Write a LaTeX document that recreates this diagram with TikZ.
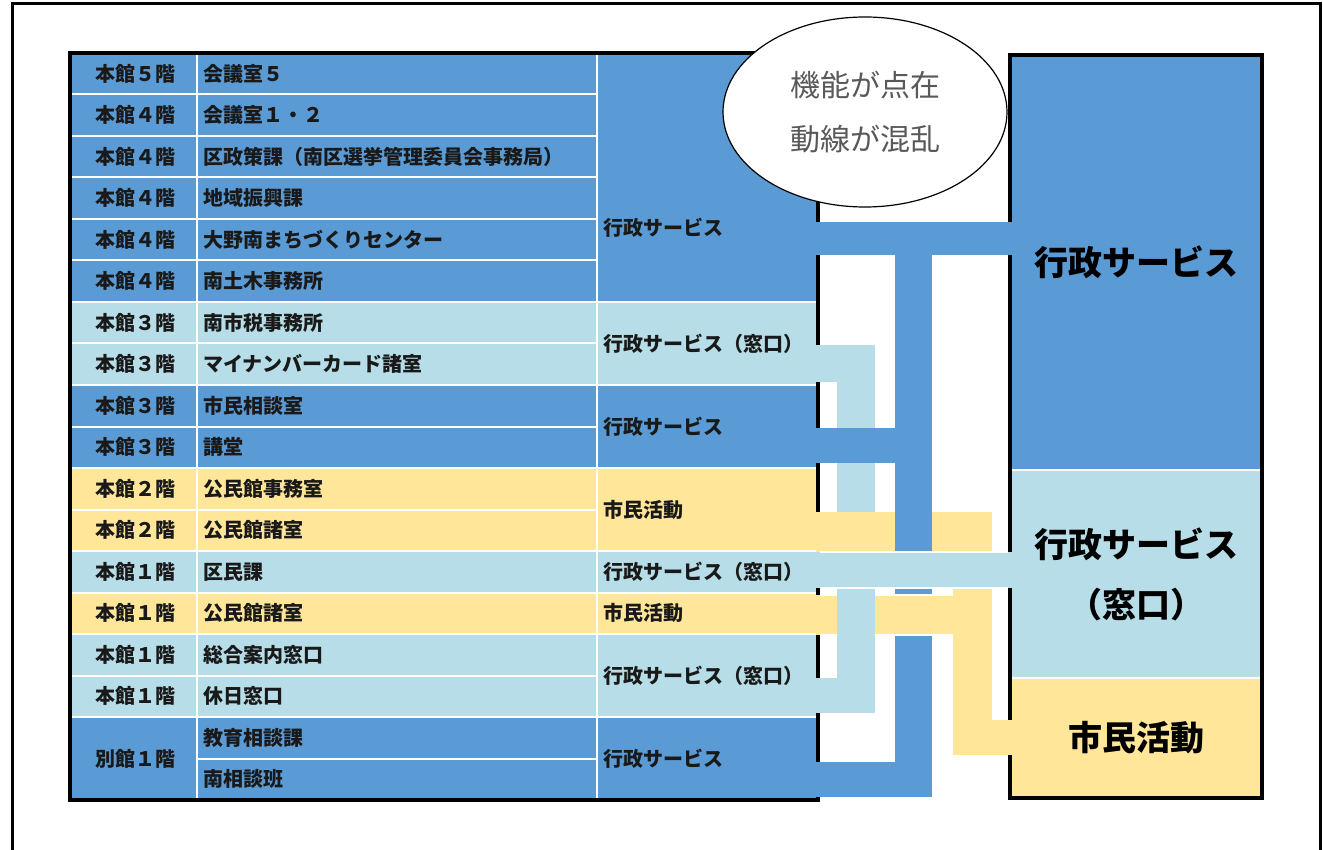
\documentclass[tikz,border=0pt]{standalone}
\usepackage{fontspec}
\setmainfont{Noto Sans CJK JP}
\usetikzlibrary{positioning,shapes.geometric}

\definecolor{svcblue}{HTML}{5B9BD5}
\definecolor{winblue}{HTML}{B7DEE8}
\definecolor{civyellow}{HTML}{FFE699}
\definecolor{inkgray}{HTML}{595959}

\tikzstyle{cell} = [rectangle, draw=white, line width=2pt, outer sep=0pt, minimum height=41.5pt, align=left, font=\fontsize{20pt}{24pt}\selectfont\bfseries, text=black!90]
\tikzstyle{floorcell} = [cell, minimum width=127pt, inner xsep=25pt, text width=77pt]
\tikzstyle{namecell} = [cell, minimum width=400pt, inner xsep=6pt, text width=388pt]
\tikzstyle{svccell} = [cell, minimum width=221pt, inner xsep=6pt, text width=209pt, anchor=north west]
\tikzstyle{sumbox} = [rectangle, draw=white, line width=1.5pt, outer sep=0pt, minimum width=252pt, align=center, font=\fontsize{34pt}{60pt}\selectfont\bfseries]
\tikzstyle{seam} = [white, line width=1.2pt]

\begin{document}
\begin{tikzpicture}[x=1pt, y=-1pt]
        \tikzset{node distance = 0pt}
        \useasboundingbox (0,0) rectangle (1323,850);
        % outer frame
        \draw[line width=3pt] (12,850) -- (12,4) -- (1320,4) -- (1320,850);

        % floor column
        \node (f1) at (133.5,73.75) [floorcell, fill=svcblue] {本館５階};
        \node (f2) [floorcell, fill=svcblue, below=of f1] {本館４階};
        \node (f3) [floorcell, fill=svcblue, below=of f2] {本館４階};
        \node (f4) [floorcell, fill=svcblue, below=of f3] {本館４階};
        \node (f5) [floorcell, fill=svcblue, below=of f4] {本館４階};
        \node (f6) [floorcell, fill=svcblue, below=of f5] {本館４階};
        \node (f7) [floorcell, fill=winblue, below=of f6] {本館３階};
        \node (f8) [floorcell, fill=winblue, below=of f7] {本館３階};
        \node (f9) [floorcell, fill=svcblue, below=of f8] {本館３階};
        \node (f10) [floorcell, fill=svcblue, below=of f9] {本館３階};
        \node (f11) [floorcell, fill=civyellow, below=of f10] {本館２階};
        \node (f12) [floorcell, fill=civyellow, below=of f11] {本館２階};
        \node (f13) [floorcell, fill=winblue, below=of f12] {本館１階};
        \node (f14) [floorcell, fill=civyellow, below=of f13] {本館１階};
        \node (f15) [floorcell, fill=winblue, below=of f14] {本館１階};
        \node (f16) [floorcell, fill=winblue, below=of f15] {本館１階};
        \node (f17) [floorcell, fill=svcblue, minimum height=83pt, below=of f16] {別館１階};

        % room column
        \node (n1) [namecell, fill=svcblue, right=of f1] {会議室５};
        \node (n2) [namecell, fill=svcblue, right=of f2] {会議室１・２};
        \node (n3) [namecell, fill=svcblue, right=of f3] {区政策課（南区選挙管理委員会事務局）};
        \node (n4) [namecell, fill=svcblue, right=of f4] {地域振興課};
        \node (n5) [namecell, fill=svcblue, right=of f5] {大野南まちづくりセンター};
        \node (n6) [namecell, fill=svcblue, right=of f6] {南土木事務所};
        \node (n7) [namecell, fill=winblue, right=of f7] {南市税事務所};
        \node (n8) [namecell, fill=winblue, right=of f8] {マイナンバーカード諸室};
        \node (n9) [namecell, fill=svcblue, right=of f9] {市民相談室};
        \node (n10) [namecell, fill=svcblue, right=of f10] {講堂};
        \node (n11) [namecell, fill=civyellow, right=of f11] {公民館事務室};
        \node (n12) [namecell, fill=civyellow, right=of f12] {公民館諸室};
        \node (n13) [namecell, fill=winblue, right=of f13] {区民課};
        \node (n14) [namecell, fill=civyellow, right=of f14] {公民館諸室};
        \node (n15) [namecell, fill=winblue, right=of f15] {総合案内窓口};
        \node (n16) [namecell, fill=winblue, right=of f16] {休日窓口};
        \node (n17) at (f17.north east) [namecell, fill=svcblue, anchor=north west] {教育相談課};
        \node (n18) [namecell, fill=svcblue, below=of n17] {南相談班};

        % service column
        \node (s1) at (n1.north east) [svccell, fill=svcblue, minimum height=249pt] {};
        \node (s1t) at (603,228) [cell, draw=none, anchor=west, inner xsep=0pt, minimum height=0pt] {行政サービス};
        \node (s2) at (n7.north east) [svccell, fill=winblue, minimum height=83pt] {行政サービス（窓口）};
        \node (s3) at (n9.north east) [svccell, fill=svcblue, minimum height=83pt] {行政サービス};
        \node (s4) at (n11.north east) [svccell, fill=civyellow, minimum height=83pt] {市民活動};
        \node (s5) at (n13.north east) [svccell, fill=winblue] {行政サービス（窓口）};
        \node (s6) at (n14.north east) [svccell, fill=civyellow] {市民活動};
        \node (s7) at (n15.north east) [svccell, fill=winblue, minimum height=83pt] {行政サービス（窓口）};
        \node (s8) at (n17.north east) [svccell, fill=svcblue, minimum height=83pt] {行政サービス};
        \draw[line width=4pt] (f1.north west) -- (s1.north east) -- (s8.south east) -- (f17.south west) -- cycle;

        % summary boxes
        \node (g1) at (1136,262.5) [sumbox, fill=svcblue, minimum height=415pt] {行政サービス};
        \node (g2) [sumbox, fill=winblue, minimum height=208pt, below=of g1] {行政サービス\\（窓口）};
        \node (g3) [sumbox, fill=civyellow, minimum height=120pt, below=of g2] {市民活動};
        \draw[line width=4pt] (g1.north west) rectangle (g3.south east);

        % flow bands, drawn in weave order
        \fill[winblue] (837,345) rectangle (875,713);
        \fill[winblue] (816,345) rectangle (875,382);
        \fill[winblue] (816,678) rectangle (875,713);
        \fill[svcblue] (816,428) rectangle (932,463);
        \fill[civyellow] (816,512) rectangle (992,552);
        \fill[svcblue] (895,222) rectangle (932,797);
        \fill[svcblue] (816,222) rectangle (1012,255);
        \fill[svcblue] (816,762) rectangle (932,797);
        \fill[civyellow] (953,512) rectangle (992,755);
        \fill[civyellow] (953,720) rectangle (1012,755);
        \fill[civyellow] (816,595) rectangle (837,635);
        \fill[civyellow] (875,595) rectangle (992,635);
        \draw[seam] (820,595) -- (837,595) (875,595) -- (953,595) (820,635) -- (837,635) (875,635) -- (953,635);
        \fill[winblue] (816,552) rectangle (1012,588);
        \draw[seam] (820,552) -- (1008,552) (820,588) -- (1008,588);

        % speech bubble
        \node (bubble) at (865,112) [ellipse, draw, fill=white, line width=1.2pt, minimum width=284pt, minimum height=190pt, align=center, text=inkgray, font=\fontsize{30pt}{54pt}\selectfont] {機能が点在\\動線が混乱};
    \end{tikzpicture}
\end{document}
